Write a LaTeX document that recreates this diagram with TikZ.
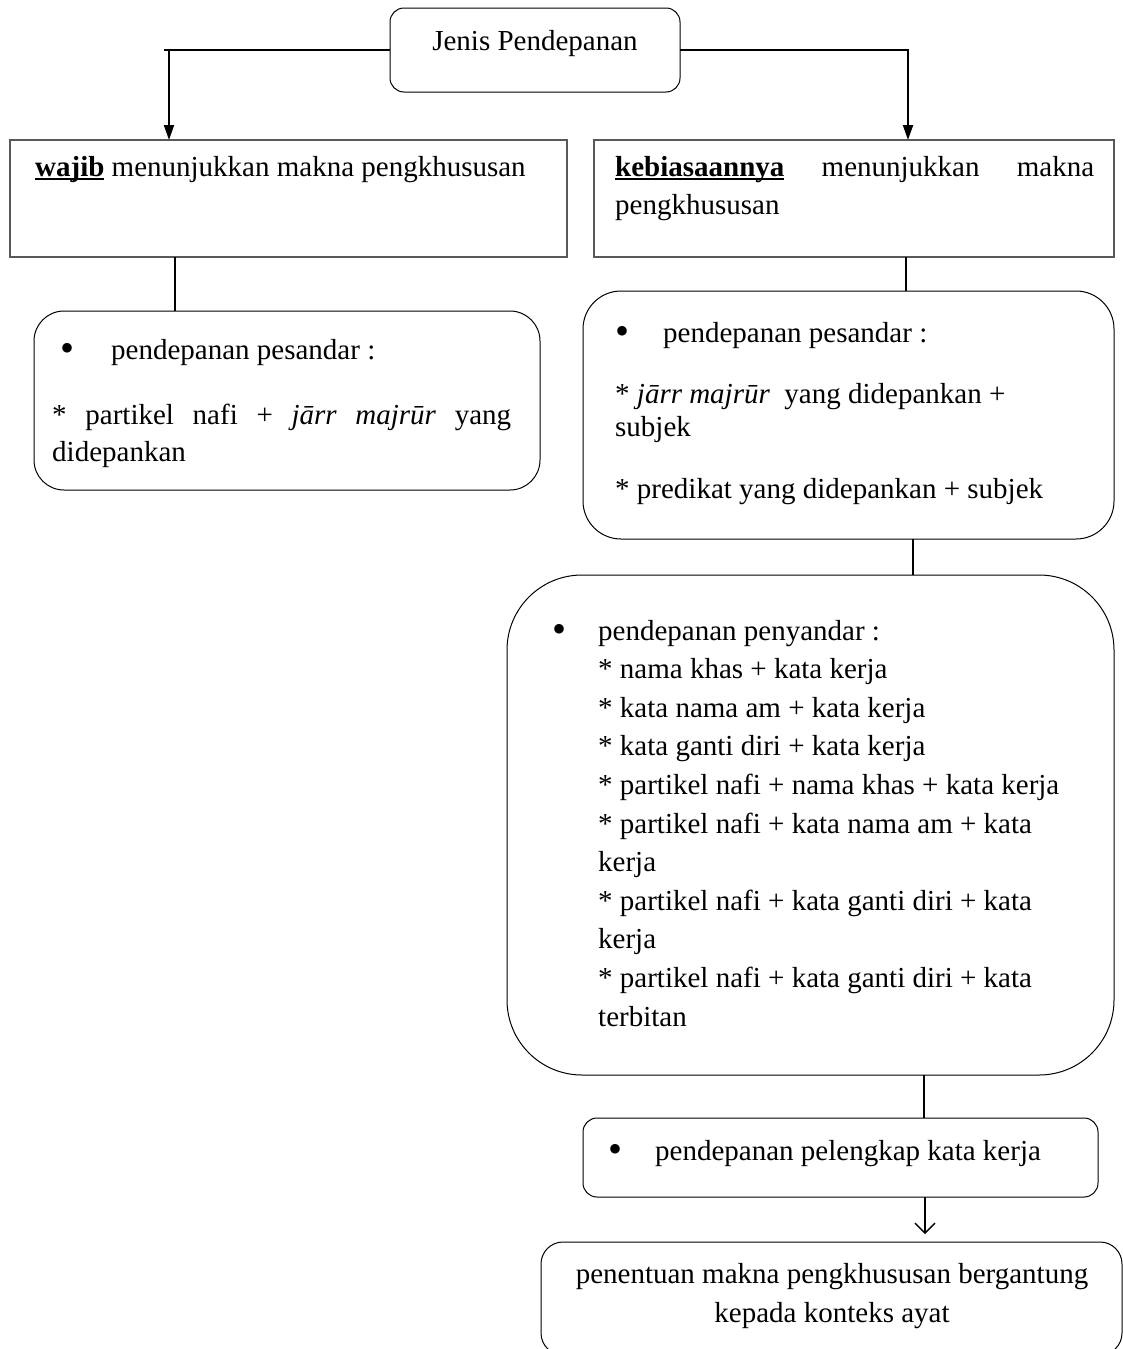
\documentclass[tikz,border=0pt]{standalone}
\usepackage{fontspec}
\setmainfont{Liberation Serif}
\usetikzlibrary{arrows.meta}
\newcommand\myul[1]{\setbox0=\hbox{#1}\rlap{\rule[-4pt]{\wd0}{1.8pt}}\box0\relax}
\begin{document}
\begin{tikzpicture}[x=1pt,y=-1pt,
  rbox/.style={draw=black, line width=1pt, rounded corners=#1, inner sep=0pt, outer sep=0pt, anchor=north west},
  sbox/.style={draw=black!65, line width=1.6pt, inner sep=0pt, outer sep=0pt, anchor=north west},
  t/.style={inner sep=0pt, anchor=base west, font=\fontsize{29}{38.5}\selectfont},
  tc/.style={inner sep=0pt, anchor=base, font=\fontsize{29}{38.5}\selectfont},
  bul/.style={inner sep=0pt, anchor=center, font=\fontsize{40}{40}\selectfont},
  link/.style={draw=black, line width=1.3pt},
  arr/.style={draw=black, line width=2pt, -{Triangle[length=15pt,width=10pt]}},
  openarr/.style={draw=black, line width=1.3pt, -{Straight Barb[length=10pt,width=20pt]}}]
\useasboundingbox (0,0) rectangle (1123,1349);

% boxes
\node[rbox=14pt, minimum width=290pt, minimum height=84pt] (top) at (390,8) {};
\node[sbox, minimum width=557pt, minimum height=117pt] (lbox) at (10,140) {};
\node[sbox, minimum width=520pt, minimum height=117pt] (rbox) at (594,140) {};
\node[rbox=30pt, minimum width=506pt, minimum height=179pt] (lr) at (34,311) {};
\node[rbox=38pt, minimum width=531pt, minimum height=248pt] (r1) at (583,291) {};
\node[rbox=75pt, minimum width=607pt, minimum height=500pt] (big) at (507,575) {};
\node[rbox=14pt, minimum width=515pt, minimum height=79pt] (small) at (583,1118) {};
\node[rbox=22pt, minimum width=581pt, minimum height=113pt] (fin) at (541,1242) {};

% texts
\node[tc] (ttop) at (535,50) {Jenis Pendepanan};

\node[t] (tl1) at (35,176) {\myul{\textbf{wajib}} menunjukkan makna pengkhususan};

\node[t] (tr1) at (615,176) {\makebox[479pt][s]{\myul{\textbf{kebiasaannya}} menunjukkan makna}};
\node[t] (tr2) at (615,214) {pengkhususan};

\node[bul] (bl) at (68,352) {•};
\node[t] (lrt1) at (111,359) {pendepanan pesandar :};
\node[t] (lrt2) at (52,424) {\makebox[459pt][s]{* partikel nafi + \textit{jārr majrūr} yang}};
\node[t] (lrt3) at (52,461) {didepankan};

\node[bul] (br1) at (622,335) {•};
\node[t] (r1t1) at (663,342) {pendepanan pesandar :};
\node[t] (r1t2) at (615,403) {* \textit{jārr majrūr}\ \ yang didepankan +};
\node[t] (r1t3) at (615,436) {subjek};
\node[t] (r1t4) at (615,498) {* predikat yang didepankan + subjek};

\node[bul] (bb) at (559,633) {•};
\node[t] (b1) at (598,640) {pendepanan penyandar :};
\node[t] (b2) at (598,678.6) {* nama khas + kata kerja};
\node[t] (b3) at (598,717.2) {* kata nama am + kata kerja};
\node[t] (b4) at (598,755.8) {* kata ganti diri + kata kerja};
\node[t] (b5) at (598,794.4) {* partikel nafi + nama khas + kata kerja};
\node[t] (b6) at (598,833) {* partikel nafi + kata nama am + kata};
\node[t] (b7) at (598,871.6) {kerja};
\node[t] (b8) at (598,910.2) {* partikel nafi + kata ganti diri + kata};
\node[t] (b9) at (598,948.8) {kerja};
\node[t] (b10) at (598,987.4) {* partikel nafi + kata ganti diri + kata};
\node[t] (b11) at (598,1026) {terbitan};

\node[bul] (bs) at (615,1153) {•};
\node[t] (s1) at (655,1160) {pendepanan pelengkap kata kerja};

\node[tc] (f1) at (832,1283) {penentuan makna pengkhususan bergantung};
\node[tc] (f2) at (832,1322) {kepada konteks ayat};

% connectors
\coordinate (la) at (169,140);
\coordinate (ra) at (908,140);
\coordinate (lstub) at (164,50);
\draw[link] (top.west) -- (lstub);
\draw[arr] (top.west) -| (la);
\draw[arr] (top.east) -| (ra);

\coordinate (x1) at (175,0);
\coordinate (x2) at (906,0);
\coordinate (x3) at (913,0);
\coordinate (x4) at (924,0);
\coordinate (x5) at (925,1234);
\draw[link] (lbox.south -| x1) -- (lr.north -| x1);
\draw[link] (rbox.south -| x2) -- (r1.north -| x2);
\draw[link] (r1.south -| x3) -- (big.north -| x3);
\draw[link] (big.south -| x4) -- (small.north -| x4);
\draw[openarr] (small.south -| x5) -- (x5);
\end{tikzpicture}
\end{document}
